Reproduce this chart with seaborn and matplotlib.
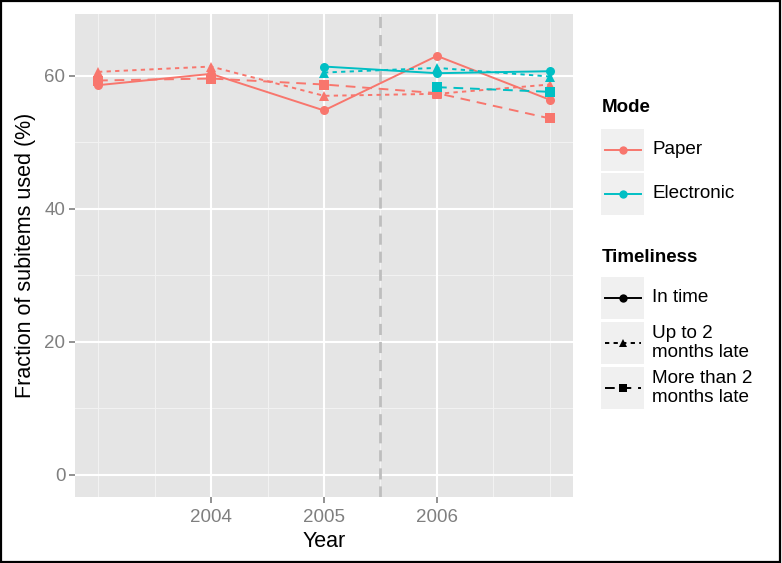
import numpy as np
import pandas as pd
import matplotlib
matplotlib.use("Agg")
import matplotlib.pyplot as plt
from matplotlib.lines import Line2D
from matplotlib.patches import Rectangle
import seaborn as sns

years = [2003, 2004, 2005, 2006, 2007]
paper_in_time = [58.6, 60.3, 54.8, 63.0, 56.4]
paper_upto2 = [60.6, 61.4, 57.0, 57.3, 58.7]
paper_more2 = [59.3, 59.6, 58.7, 57.4, 53.6]
elec_in_time = [np.nan, np.nan, 61.4, 60.4, 60.7]
elec_upto2 = [np.nan, np.nan, 60.5, 61.2, 59.9]
elec_more2 = [np.nan, np.nan, np.nan, 58.3, 57.6]

modes = ["Paper", "Electronic"]
timeliness = ["In time", "Up to 2 months late", "More than 2 months late"]
legend_labels = ["In time", "Up to 2\nmonths late", "More than 2\nmonths late"]
xticks = [2004, 2005, 2006]
yticks = [0, 20, 40, 60]
cutover = 2005.5

rows = []
series = {("Paper", timeliness[0]): paper_in_time, ("Paper", timeliness[1]): paper_upto2,
          ("Paper", timeliness[2]): paper_more2, ("Electronic", timeliness[0]): elec_in_time,
          ("Electronic", timeliness[1]): elec_upto2, ("Electronic", timeliness[2]): elec_more2}
for (m, t), vals in series.items():
    for yr, v in zip(years, vals):
        rows.append({"Year": yr, "Fraction": v, "Mode": m, "Timeliness": t})
df = pd.DataFrame(rows).dropna()

palette = {"Paper": "#F8766D", "Electronic": "#00BFC4"}
markers = {timeliness[0]: "o", timeliness[1]: "^", timeliness[2]: "s"}
dashes = {timeliness[0]: "", timeliness[1]: (2.2, 2.2), timeliness[2]: (5, 3.5)}

plt.rcParams["font.family"] = ["Liberation Sans", "DejaVu Sans"]
W, H = 782, 563
fig = plt.figure(figsize=(W / 100, H / 100), dpi=100)
ax = fig.add_axes([75 / W, 1 - 497 / H, 498 / W, 483 / H])
ax.set_facecolor("#E5E5E5")

def fp(x, y):
    return (x / W, 1 - y / H)

# grid
for xm in [2003, 2003.5, 2004.5, 2005.5, 2006.5, 2007]:
    ax.axvline(xm, color="#F2F2F2", lw=0.8, zorder=0)
for ym in [10, 30, 50]:
    ax.axhline(ym, color="#F2F2F2", lw=0.8, zorder=0)
for xm in xticks:
    ax.axvline(xm, color="white", lw=1.5, zorder=0)
for ym in yticks:
    ax.axhline(ym, color="white", lw=1.5, zorder=0)

ax.axvline(cutover, color="#BEBEBE", lw=2, dashes=(4, 2.5), zorder=1)

sns.lineplot(data=df, x="Year", y="Fraction", hue="Mode", style="Timeliness",
             hue_order=modes, style_order=timeliness, palette=palette,
             markers=markers, dashes=dashes, errorbar=None, lw=1.4,
             markersize=6.5, markeredgewidth=0, legend=False, ax=ax, zorder=3)

ax.set_xlim(2002.796, 2007.204)
ax.set_ylim(-3.31, 69.3)
ax.set_xticks(xticks)
ax.set_yticks(yticks)
for s in ax.spines.values():
    s.set_visible(False)
ax.tick_params(colors="#7F7F7F", labelsize=13.5, length=4, width=1.2)
ax.tick_params(axis="x", pad=5)
ax.tick_params(axis="y", pad=3)
ax.set_xlabel("Year", fontsize=15.5, labelpad=3)
ax.set_ylabel("Fraction of subitems used (%)", fontsize=15.5, labelpad=6)

# legend, drawn by hand in ggplot style
fs = 13.6
fig.text(*fp(602, 108), "Mode", fontsize=13.5, fontweight="bold", va="center")
for i, m in enumerate(modes):
    cy = 150 + i * 44
    x0, y0 = fp(601, cy + 21)
    fig.add_artist(Rectangle((x0, y0), 43 / W, 42 / H, transform=fig.transFigure,
                             facecolor="#F0F0F0", edgecolor="none"))
    fig.add_artist(Line2D([605 / W, 641 / W], [1 - cy / H] * 2, color=palette[m], lw=1.4))
    fig.add_artist(Line2D([623 / W], [1 - cy / H], color=palette[m], marker="o",
                          markersize=6, markeredgewidth=0))
    fig.text(*fp(652, cy), m, fontsize=fs, va="center")

fig.text(*fp(602, 257), "Timeliness", fontsize=13.5, fontweight="bold", va="center")
for i, t in enumerate(timeliness):
    cy = 298 + i * 45
    x0, y0 = fp(601, cy + 21)
    fig.add_artist(Rectangle((x0, y0), 43 / W, 42 / H, transform=fig.transFigure,
                             facecolor="#F0F0F0", edgecolor="none"))
    ln = Line2D([605 / W, 641 / W], [1 - cy / H] * 2, color="black", lw=1.4)
    if dashes[t]:
        ln.set_dashes(dashes[t])
    fig.add_artist(ln)
    fig.add_artist(Line2D([623 / W], [1 - cy / H], color="black", marker=markers[t],
                          markersize=6, markeredgewidth=0))
    fig.text(*fp(652, cy), legend_labels[i], fontsize=fs, va="center", linespacing=1.12)

fig.add_artist(Rectangle((0.001, 0.002), 0.997, 0.996, transform=fig.transFigure,
                         facecolor="none", edgecolor="black", lw=1.6))

fig.savefig("out.png", dpi=100)
